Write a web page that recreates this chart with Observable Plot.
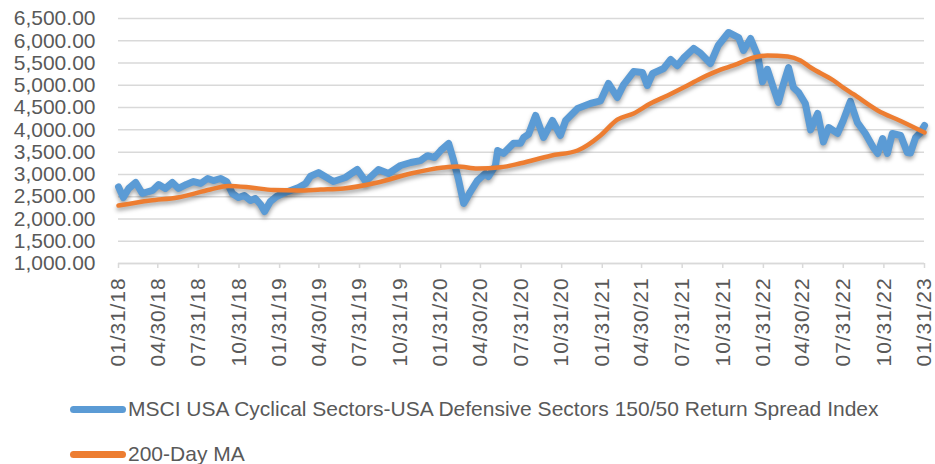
<!DOCTYPE html>
<html>
<head>
<meta charset="utf-8">
<script src="https://cdn.jsdelivr.net/npm/d3@7"></script>
<script src="https://cdn.jsdelivr.net/npm/@observablehq/plot@0.6"></script>
<style>
  html, body { margin: 0; padding: 0; background: #fff; }
  #wrap { position: relative; width: 935px; height: 464px; overflow: hidden; font-family: "Liberation Sans", Arial, sans-serif; }
  .lg { position: absolute; left: 70px; display: flex; align-items: center; color: #595959; font-size: 21px; white-space: nowrap; }
  .sw { width: 56px; height: 7px; border-radius: 4px; margin-right: 2px; }
</style>
</head>
<body>
<div id="wrap"></div>
<script>
// ---- data ----
const seriesNames = ["MSCI USA Cyclical Sectors-USA Defensive Sectors 150/50 Return Spread Index", "200-Day MA"];
const seriesColors = ["#5b9bd5", "#ed7d31"];

const spreadDates = [
  "2018-01-31","2018-02-11","2018-02-23","2018-03-11","2018-03-26","2018-04-09","2018-04-18","2018-05-02","2018-05-17","2018-06-02",
  "2018-06-16","2018-07-04","2018-07-20","2018-08-05","2018-08-21","2018-09-03","2018-09-19","2018-10-03","2018-10-16","2018-10-30",
  "2018-11-12","2018-11-26","2018-12-07","2018-12-19","2018-12-28","2019-01-10","2019-01-24","2019-02-07","2019-02-25","2019-03-15",
  "2019-03-31","2019-04-11","2019-04-29","2019-06-02","2019-06-29","2019-07-26","2019-08-14","2019-09-12","2019-10-05","2019-11-01",
  "2019-11-24","2019-12-16","2020-01-01","2020-01-17","2020-01-31","2020-02-18","2020-02-28","2020-03-11","2020-03-23","2020-04-01",
  "2020-04-07","2020-04-23","2020-05-11","2020-05-18","2020-06-03","2020-06-08","2020-06-21","2020-07-14","2020-07-30","2020-08-06",
  "2020-08-17","2020-09-02","2020-09-20","2020-10-10","2020-10-28","2020-11-09","2020-12-06","2021-01-04","2021-01-27","2021-02-14",
  "2021-03-06","2021-03-20","2021-04-12","2021-05-02","2021-05-13","2021-05-25","2021-06-19","2021-07-05","2021-07-20","2021-08-03",
  "2021-08-26","2021-09-11","2021-10-03","2021-10-21","2021-11-13","2021-12-06","2021-12-17","2022-01-02","2022-01-18","2022-01-29",
  "2022-02-09","2022-02-21","2022-03-06","2022-03-15","2022-03-29","2022-04-09","2022-04-21","2022-05-06","2022-05-18","2022-06-03",
  "2022-06-16","2022-06-28","2022-07-18","2022-07-31","2022-08-16","2022-09-01","2022-09-19","2022-10-07","2022-10-17","2022-10-28",
  "2022-11-08","2022-11-19","2022-12-08","2022-12-23","2022-12-30","2023-01-11","2023-01-22","2023-01-31"
];
const spreadValues = [
  2720,2480,2684,2818,2571,2616,2640,2774,2684,2818,
  2684,2774,2840,2796,2908,2863,2908,2840,2571,2480,
  2527,2414,2460,2325,2167,2392,2504,2571,2640,2706,
  2796,2960,3040,2840,2930,3110,2840,3110,3020,3200,
  3267,3310,3420,3380,3537,3694,3360,2900,2347,2500,
  2610,2860,3020,2950,3200,3537,3470,3700,3700,3830,
  3900,4323,3830,4210,3874,4210,4480,4592,4650,5041,
  4727,5010,5310,5288,4996,5266,5378,5580,5440,5610,
  5827,5715,5490,5900,6186,6073,5782,6050,5670,5080,
  5360,4996,4615,4951,5400,4951,4839,4592,4000,4368,
  3730,4053,3919,4210,4640,4165,3919,3604,3469,3806,
  3469,3919,3874,3492,3480,3830,3941,4098
];

const maDates = [
  "2018-01-31","2018-04-13","2018-06-14","2018-08-27","2018-10-07","2018-11-26","2019-01-17","2019-03-13","2019-05-04","2019-06-25",
  "2019-09-10","2019-11-24","2020-02-06","2020-03-09","2020-04-23","2020-06-14","2020-07-30","2020-10-06","2020-12-06","2021-01-27",
  "2021-03-06","2021-04-12","2021-05-20","2021-06-28","2021-08-03","2021-09-11","2021-10-26","2021-11-24","2022-01-09","2022-02-09",
  "2022-03-27","2022-04-25","2022-05-18","2022-07-09","2022-07-31","2022-08-23","2022-10-17","2022-12-08","2023-01-31"
];
const maValues = [
  2300,2414,2482,2661,2740,2706,2650,2640,2660,2684,
  2818,3020,3155,3178,3133,3160,3250,3420,3537,3874,
  4230,4368,4592,4772,4950,5153,5350,5445,5625,5670,
  5647,5557,5400,5108,4950,4800,4435,4200,3941
];

const yTicks = [1000,1500,2000,2500,3000,3500,4000,4500,5000,5500,6000,6500];
const xTickLabels = [
  "2018-01-31","2018-04-30","2018-07-31","2018-10-31","2019-01-31","2019-04-30","2019-07-31","2019-10-31",
  "2020-01-31","2020-04-30","2020-07-31","2020-10-31","2021-01-31","2021-04-30","2021-07-31","2021-10-31",
  "2022-01-31","2022-04-30","2022-07-31","2022-10-31","2023-01-31"
];

// ---- build ----
const parse = d3.utcParse("%Y-%m-%d");
const spread = spreadDates.map((d, i) => ({date: parse(d), value: spreadValues[i]}));
const ma = maDates.map((d, i) => ({date: parse(d), value: maValues[i]}));
const xTicks = xTickLabels.map(parse);

const chart = Plot.plot({
  width: 935,
  height: 385,
  marginTop: 18,
  marginBottom: 122,
  marginLeft: 118,
  marginRight: 11,
  style: {fontFamily: "Liberation Sans, Arial, sans-serif", color: "#595959", background: "#fff"},
  x: {type: "utc", domain: [xTicks[0], xTicks[xTicks.length - 1]], label: null},
  y: {domain: [1000, 6500], label: null},
  marks: [
    Plot.gridY(yTicks, {stroke: "#d9d9d9", strokeOpacity: 1, strokeWidth: 1.5}),
    Plot.axisY(yTicks, {tickFormat: d3.format(",.2f"), tickSize: 0, tickPadding: 23, fontSize: 21, fill: "#595959", label: null}),
    Plot.axisX(xTicks, {
      tickFormat: d3.utcFormat("%m/%d/%y"), tickRotate: -90, tickSize: 5, tickPadding: 9,
      stroke: "#d9d9d9", strokeWidth: 1.5, strokeOpacity: 1, fontSize: 21, fill: "#595959", label: null
    }),
    Plot.ruleY([1000], {stroke: "#d9d9d9", strokeWidth: 1.5}),
    Plot.line(spread, {x: "date", y: "value", stroke: seriesColors[0], strokeWidth: 7, strokeLinejoin: "round", strokeLinecap: "round"}),
    Plot.line(ma, {x: "date", y: "value", stroke: seriesColors[1], strokeWidth: 4.5, curve: "monotone-x", strokeLinejoin: "round"})
  ]
});

d3.select(chart).selectAll("g[aria-label='line']").style("filter", "drop-shadow(0px 3px 2px rgba(0,0,0,0.35))");
d3.select(chart).selectAll("g[aria-label='x-axis tick label'] text").style("letter-spacing", "0.9px");

const wrap = document.getElementById("wrap");
wrap.appendChild(chart);

const legendTops = [397, 442];
seriesNames.forEach((name, i) => {
  const row = document.createElement("div");
  row.className = "lg";
  row.style.top = legendTops[i] + "px";
  const sw = document.createElement("div");
  sw.className = "sw";
  sw.style.background = seriesColors[i];
  const tx = document.createElement("span");
  tx.textContent = name;
  row.appendChild(sw);
  row.appendChild(tx);
  wrap.appendChild(row);
});
</script>
</body>
</html>
